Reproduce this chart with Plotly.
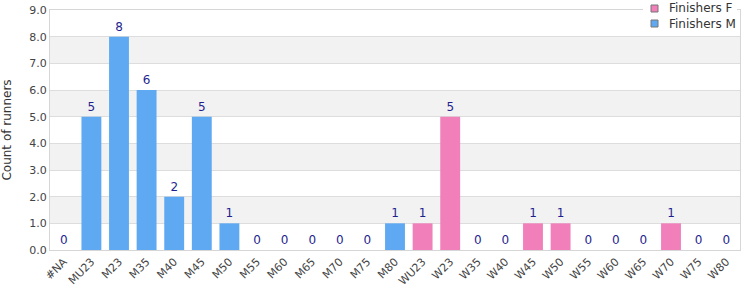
import plotly.graph_objects as go

categories = ["#NA", "MU23", "M23", "M35", "M40", "M45", "M50", "M55", "M60", "M65",
              "M70", "M75", "M80", "WU23", "W23", "W35", "W40", "W45", "W50", "W55",
              "W60", "W65", "W70", "W75", "W80"]
finishers_m = [0, 5, 8, 6, 2, 5, 1, 0, 0, 0, 0, 0, 1,
               None, None, None, None, None, None, None, None, None, None, None, None]
finishers_f = [None, None, None, None, None, None, None, None, None, None, None, None, None,
               1, 5, 0, 0, 1, 1, 0, 0, 0, 1, 0, 0]
y_ticks = [0, 1, 2, 3, 4, 5, 6, 7, 8, 9]
series_names = ["Finishers F", "Finishers M"]
series_colors = ["#F07FBA", "#5EA9F2"]

FONT = "DejaVu Sans"
LABEL_COLOR = "#1f1f8f"

W, H = 750, 300
ML, MR, MT, MB = 50, 10, 10, 50
PW, PH = W - ML - MR, H - MT - MB

def px_x(p):
    return (p - ML) / PW

def px_y(p):
    return (H - MB - p) / PH

def txt(vals):
    return [("" if v is None else str(v)) for v in vals]

fig = go.Figure()
for name, color, vals in zip(series_names, series_colors, [finishers_f, finishers_m]):
    fig.add_trace(go.Bar(
        x=categories, y=vals, name=name,
        marker=dict(color=color, line=dict(width=0)),
        text=txt(vals), textposition="outside", cliponaxis=False,
        textfont=dict(color=LABEL_COLOR, size=12, family=FONT),
        showlegend=False,
    ))

shapes = []
for lo in [1, 3, 5, 7]:
    shapes.append(dict(type="rect", xref="paper", yref="y", x0=0, x1=1, y0=lo, y1=lo + 1,
                       fillcolor="#f2f2f2", line=dict(width=0), layer="below"))

# custom legend (box + symbols + text)
annotations = []
shapes.append(dict(type="rect", xref="paper", yref="paper",
                   x0=px_x(643), x1=px_x(737), y0=px_y(31), y1=px_y(0),
                   fillcolor="white", line=dict(width=0), layer="above"))
for i, (name, color) in enumerate(zip(series_names, series_colors)):
    cy = 8.5 + 15 * i
    shapes.append(dict(type="rect", xref="paper", yref="paper",
                       x0=px_x(651), x1=px_x(658), y0=px_y(cy + 3.5), y1=px_y(cy - 3.5),
                       fillcolor=color, line=dict(width=1, color="#777"), layer="above"))
    annotations.append(dict(xref="paper", yref="paper", x=px_x(667), y=px_y(cy),
                            xanchor="left", yanchor="middle", showarrow=False, text=name,
                            font=dict(size=12, color="#333", family=FONT)))

fig.update_layout(
    width=W, height=H,
    margin=dict(l=ML, r=MR, t=MT, b=MB, autoexpand=False),
    paper_bgcolor="white", plot_bgcolor="white",
    barmode="overlay", bargap=0.28,
    font=dict(family=FONT, size=11, color="#444"),
    shapes=shapes, annotations=annotations,
    showlegend=False,
    xaxis=dict(type="category", tickangle=-45, showline=True, linecolor="#d6d6d6",
               mirror=True, ticks="", tickfont=dict(size=11, color="#444"), showgrid=False),
    yaxis=dict(range=[0, 9], tickvals=y_ticks, ticktext=[f"{v:.1f}" for v in y_ticks],
               showgrid=True, gridcolor="#dddddd", showline=True, linecolor="#d6d6d6",
               mirror=True, zeroline=False, ticks="",
               title=dict(text="Count of runners", font=dict(size=12, color="#333"), standoff=16),
               tickfont=dict(size=11, color="#444")),
)
fig.write_html("out.html")
